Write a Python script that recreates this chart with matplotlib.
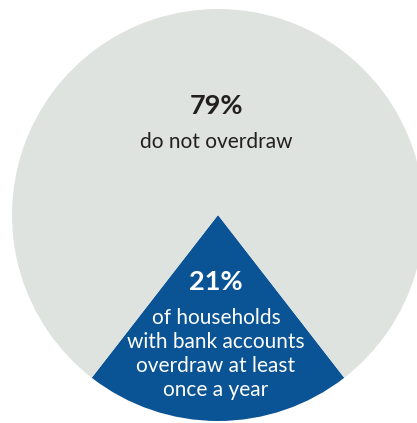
import matplotlib.pyplot as plt

# Data
shares = [21, 79]
pct_labels = ["21%", "79%"]
desc_labels = ["of households\nwith bank accounts\noverdraw at least\nonce a year",
               "do not overdraw"]

BLUE = "#0a5394"
GRAY = "#dfe3e0"
DARK = "#231f20"

plt.rcParams["font.family"] = ["Lato", "DejaVu Sans"]

W, H = 417, 423
fig = plt.figure(figsize=(W / 100, H / 100), dpi=100)
ax = fig.add_axes([0, 0, 1, 1])

cx, cy, rad = 218, H - 215, 206
start = 270 - shares[0] * 3.6 / 2
ax.pie(shares, colors=[BLUE, GRAY], startangle=start, counterclock=True,
       radius=rad, center=(cx, cy), wedgeprops=dict(linewidth=0))
ax.set_xlim(0, W)
ax.set_ylim(0, H)
ax.set_aspect("auto")
ax.axis("off")

# Gray slice labels
ax.text(cx - 1, H - 106, pct_labels[1], ha="center", va="center",
        fontsize=19.5, fontweight="bold", color=DARK)
ax.text(cx - 2, H - 142, desc_labels[1], ha="center", va="center",
        fontsize=15, color=DARK)

# Blue slice labels
ax.text(cx - 2, H - 282, pct_labels[0], ha="center", va="center",
        fontsize=19.5, fontweight="bold", color="white")
ax.text(cx - 2, H - 354, desc_labels[0], ha="center", va="center",
        fontsize=15, color="white", linespacing=1.25)

fig.savefig("out.png", dpi=100)
